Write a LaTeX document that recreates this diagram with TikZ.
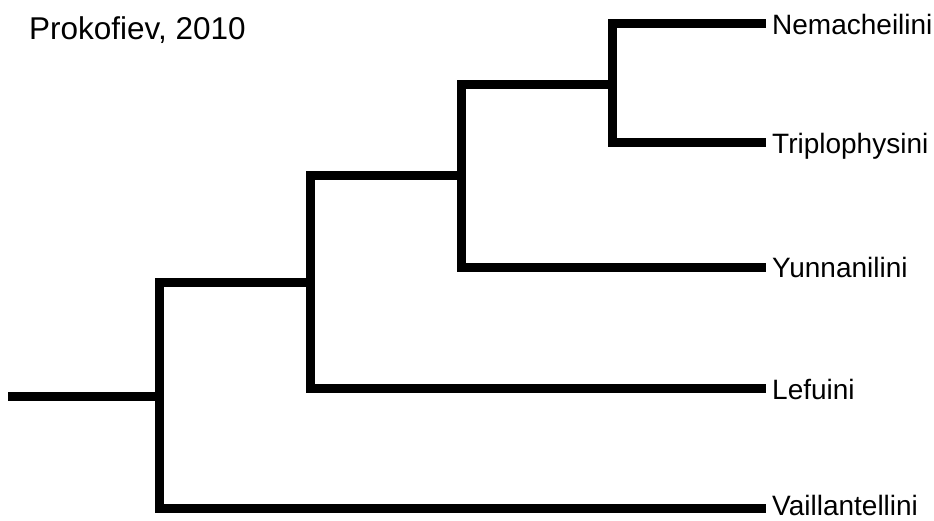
\documentclass[tikz,border=0pt]{standalone}
\usepackage{fontspec}
\setmainfont{Liberation Sans}
\begin{document}
\begin{tikzpicture}[x=1pt,y=-1pt,
  branch/.style={line width=9pt, line cap=butt, line join=miter, black},
  taxon/.style={anchor=base west, inner sep=0pt, font=\fontsize{28}{31}\selectfont},
  heading/.style={anchor=base west, inner sep=0pt, font=\fontsize{31.5}{35}\selectfont}]
  \useasboundingbox (0,0) rectangle (934,520);

  % internal junctions
  \coordinate (r)  at (8,396);
  \coordinate (n1) at (159.5,396);
  \coordinate (n2) at (310.5,282);
  \coordinate (n3) at (461,175.5);
  \coordinate (n4) at (612,84);

  % branch tips
  \coordinate (e1) at (766,23);
  \coordinate (e2) at (766,142);
  \coordinate (e3) at (766,267);
  \coordinate (e4) at (766,388.5);
  \coordinate (e5) at (766,508.5);

  % tip labels
  \node[taxon] (t1) at (772,34.3)  {Nemacheilini};
  \node[taxon] (t2) at (772,153.3) {Triplophysini};
  \node[taxon] (t3) at (772,277.3) {Yunnanilini};
  \node[taxon] (t4) at (772,399)   {Lefuini};
  \node[taxon] (t5) at (772,515)   {Vaillantellini};

  \node[heading] (title) at (29,39.3) {Prokofiev, 2010};

  % tree
  \draw[branch] (r) -- (n1);
  \draw[branch] (n1) |- (n2);
  \draw[branch] (n1) |- (e5);
  \draw[branch] (n2) |- (n3);
  \draw[branch] (n2) |- (e4);
  \draw[branch] (n3) |- (n4);
  \draw[branch] (n3) |- (e3);
  \draw[branch] (n4) |- (e1);
  \draw[branch] (n4) |- (e2);
\end{tikzpicture}
\end{document}
